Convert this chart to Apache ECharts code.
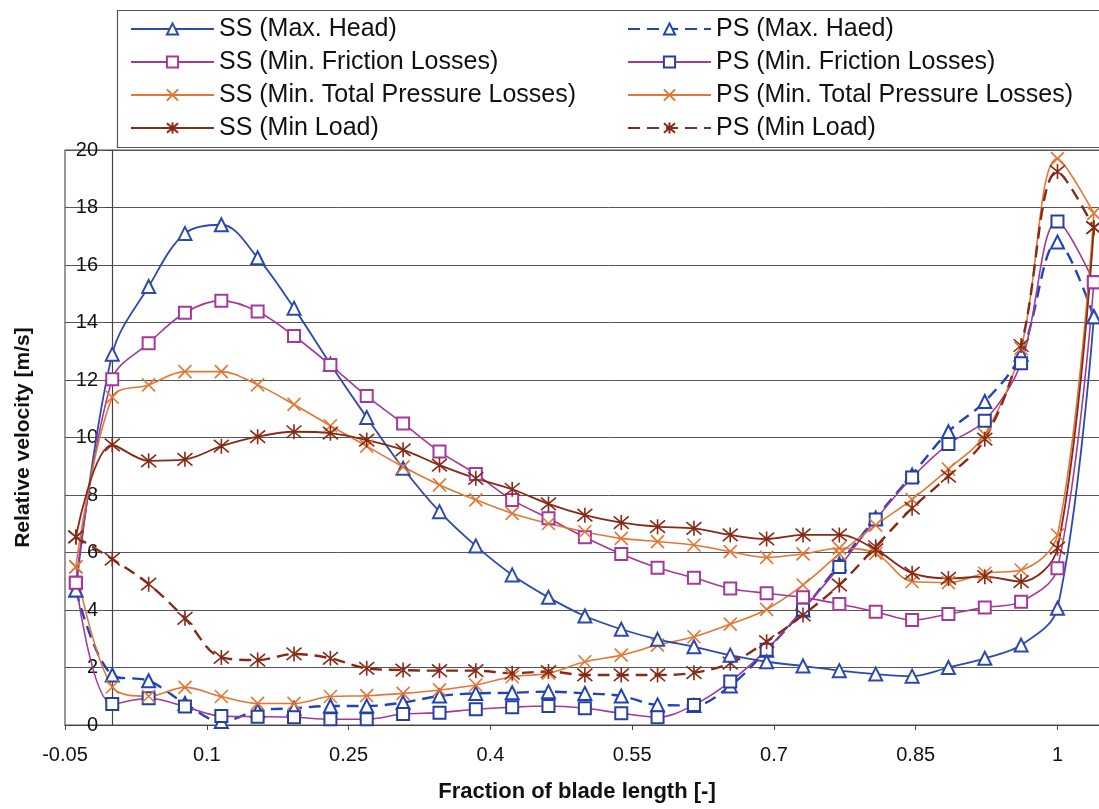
<!DOCTYPE html>
<html>
<head>
<meta charset="utf-8">
<script src="https://cdn.jsdelivr.net/npm/echarts@6/dist/echarts.min.js"></script>
<style>
  html, body { margin: 0; padding: 0; background: #fff; overflow: hidden; }
  #chart { width: 1152px; height: 809px; }
</style>
</head>
<body>
<div id="chart"></div>
<script>
'use strict';

// blade positions (leading edge point, 26 segments, trailing edge point)
var xs = [-0.0385, 0, 0.0385, 0.0769, 0.1154, 0.1538, 0.1923, 0.2308, 0.2692, 0.3077,
  0.3462, 0.3846, 0.4231, 0.4615, 0.5, 0.5385, 0.5769, 0.6154, 0.6538, 0.6923,
  0.7308, 0.7692, 0.8077, 0.8462, 0.8846, 0.9231, 0.9615, 1.0, 1.0385];

var ssMaxHead = [4.7, 12.9, 15.25, 17.1, 17.4, 16.25, 14.5, 12.55, 10.7, 8.93,
  7.42, 6.23, 5.22, 4.44, 3.79, 3.33, 2.98, 2.72, 2.43, 2.2,
  2.05, 1.89, 1.77, 1.7, 2.0, 2.32, 2.78, 4.06, 14.2];
var psMaxHaed = [4.7, 1.74, 1.54, 0.75, 0.12, 0.5, 0.58, 0.66, 0.66, 0.78,
  1.01, 1.1, 1.12, 1.16, 1.1, 1.01, 0.7, 0.68, 1.36, 2.6,
  4.0, 5.6, 7.2, 8.7, 10.2, 11.25, 12.9, 16.8, 14.2];
var ssFriction = [4.95, 12.03, 13.28, 14.34, 14.76, 14.38, 13.53, 12.52, 11.44, 10.49,
  9.51, 8.73, 7.83, 7.19, 6.53, 5.95, 5.47, 5.12, 4.75, 4.58,
  4.44, 4.21, 3.94, 3.65, 3.86, 4.09, 4.29, 5.45, 15.4];
var psFriction = [4.95, 0.73, 0.93, 0.64, 0.31, 0.29, 0.27, 0.2, 0.2, 0.38,
  0.43, 0.55, 0.62, 0.66, 0.58, 0.41, 0.27, 0.7, 1.51, 2.62,
  4.02, 5.5, 7.15, 8.61, 9.77, 10.58, 12.58, 17.51, 15.4];
var ssTotal = [5.5, 11.4, 11.83, 12.29, 12.29, 11.83, 11.15, 10.41, 9.7, 8.98,
  8.35, 7.83, 7.36, 7.01, 6.72, 6.49, 6.38, 6.26, 6.03, 5.83,
  5.95, 6.15, 5.97, 4.99, 4.95, 5.28, 5.39, 6.61, 17.8];
var psTotal = [5.5, 1.32, 1.0, 1.31, 0.99, 0.75, 0.75, 0.99, 1.02, 1.1,
  1.22, 1.39, 1.68, 1.8, 2.2, 2.43, 2.78, 3.07, 3.51, 4.02,
  4.87, 5.95, 6.95, 7.85, 8.9, 10.1, 13.1, 19.7, 17.8];
var ssLoad = [6.54, 9.74, 9.19, 9.24, 9.7, 10.03, 10.2, 10.15, 9.91, 9.57,
  9.04, 8.58, 8.2, 7.69, 7.3, 7.04, 6.9, 6.84, 6.61, 6.47,
  6.61, 6.61, 6.1, 5.28, 5.1, 5.16, 4.99, 6.15, 17.3];
var psLoad = [6.54, 5.77, 4.9, 3.71, 2.35, 2.26, 2.47, 2.32, 1.97, 1.91,
  1.89, 1.89, 1.8, 1.86, 1.74, 1.74, 1.74, 1.82, 2.15, 2.9,
  3.83, 4.87, 6.2, 7.54, 8.66, 9.94, 13.2, 19.25, 17.3];

var ssNames = ['SS (Max. Head)', 'SS (Min. Friction Losses)', 'SS (Min. Total Pressure Losses)', 'SS (Min Load)'];
var psNames = ['PS (Max. Haed)', 'PS (Min. Friction Losses)', 'PS (Min. Total Pressure Losses)', 'PS (Min Load)'];

var blue = '#2c4aac', blue2 = '#2143b8', purple = '#a4389b', navy = '#27409c',
    orange = '#e27634', brown = '#862a16';
var crossSym = 'path://M0 0L10 10M10 0L0 10';
var starSym = 'path://M0 0L10 10M10 0L0 10M5 -1L5 11';
var FONT = '"Liberation Sans", Arial, sans-serif';

function pairs(vals) {
  return xs.map(function (x, i) { return [x, vals[i]]; });
}

function mkSeries(name, vals, lineColor, symColor, sym, size, dashed, width) {
  return {
    name: name,
    type: 'line',
    data: pairs(vals),
    smooth: 0.35,
    symbol: sym,
    symbolSize: size,
    showAllSymbol: true,
    lineStyle: { color: lineColor, width: width || 1.6, type: dashed ? [12, 7] : 'solid' },
    itemStyle: { color: symColor, borderColor: symColor, borderWidth: 1.6 }
  };
}

var series = [
  mkSeries(psNames[0], psMaxHaed, blue2, blue2, 'emptyTriangle', 13, true, 2.4),
  mkSeries(psNames[1], psFriction, purple, navy, 'emptyRect', 12, false),
  mkSeries(psNames[2], psTotal, orange, orange, crossSym, 13, false),
  mkSeries(psNames[3], psLoad, brown, brown, starSym, 15, true, 2.4),
  mkSeries(ssNames[0], ssMaxHead, blue, blue, 'emptyTriangle', 13, false, 1.8),
  mkSeries(ssNames[1], ssFriction, purple, purple, 'emptyRect', 12, false),
  mkSeries(ssNames[2], ssTotal, orange, orange, crossSym, 13, false),
  mkSeries(ssNames[3], ssLoad, brown, brown, starSym, 15, false, 1.8)
];

var legendBase = {
  orient: 'vertical',
  top: 16,
  padding: 0,
  itemWidth: 83,
  itemHeight: 14,
  itemGap: 7,
  selectedMode: false,
  textStyle: { fontSize: 25, lineHeight: 26, color: '#111', fontFamily: FONT }
};

var myChart = echarts.init(document.getElementById('chart'));
var option = {
  backgroundColor: '#fff',
  animation: false,
  textStyle: { fontFamily: FONT },
  graphic: [{
    type: 'rect',
    z: -10,
    shape: { x: 117.5, y: 10.5, width: 1100, height: 137 },
    style: { fill: '#fff', stroke: '#555', lineWidth: 1.2 }
  }],
  legend: [
    Object.assign({ left: 130, data: ssNames }, legendBase),
    Object.assign({ left: 627, data: psNames }, legendBase)
  ],
  // plot runs past the right edge of the 1099px window, as in the scan
  grid: {
    left: 65, right: 0, top: 150, bottom: 84,
    outerBoundsMode: 'none',
    show: true, borderColor: '#555', borderWidth: 1.2
  },
  xAxis: {
    type: 'value',
    min: -0.05,
    max: 1.1,
    interval: 0.15,
    name: 'Fraction of blade length [-]',
    nameLocation: 'middle',
    nameGap: 56,
    nameTextStyle: { fontSize: 22, fontWeight: 'bold', color: '#111', padding: [0, 63, 0, 0] },
    axisLine: { onZero: true, lineStyle: { color: '#444', width: 1.2 } },
    axisTick: { show: true, length: 5, lineStyle: { color: '#444' } },
    splitLine: { show: false },
    axisLabel: {
      fontSize: 20, color: '#111', margin: 20,
      formatter: function (v) { return String(+v.toFixed(2)); }
    }
  },
  yAxis: {
    type: 'value',
    min: 0,
    max: 20,
    interval: 2,
    position: 'left',
    offset: -47, // value axis crosses at x = 0
    name: 'Relative velocity [m/s]',
    nameLocation: 'middle',
    nameGap: 78,
    nameTextStyle: { fontSize: 21, fontWeight: 'bold', color: '#111' },
    axisLine: { show: true, onZero: false, lineStyle: { color: '#444', width: 1.2 } },
    axisTick: { show: true, length: 5, lineStyle: { color: '#444' } },
    splitLine: { show: true, lineStyle: { color: '#555', width: 1 } },
    axisLabel: { fontSize: 20, color: '#111', margin: 14 }
  },
  series: series
};
myChart.setOption(option);
</script>
</body>
</html>
